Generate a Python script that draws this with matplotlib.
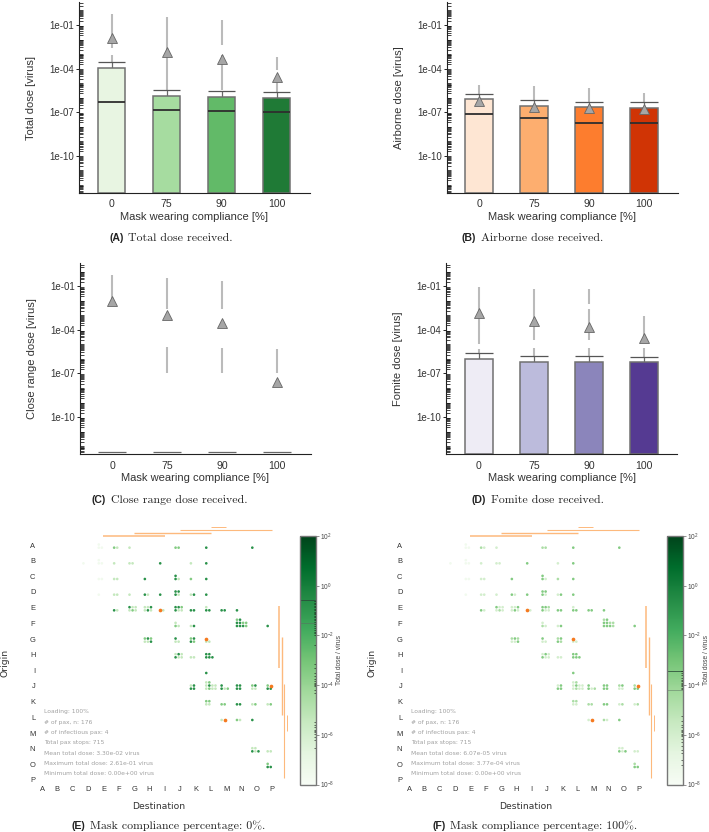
import matplotlib
matplotlib.use("Agg")
import matplotlib.pyplot as plt
import numpy as np
from matplotlib.colors import LogNorm
from matplotlib.cm import ScalarMappable
from matplotlib.ticker import LogLocator, NullFormatter, FixedLocator, NullLocator

W, H = 709, 832
plt.rcParams["font.family"] = ["Liberation Sans", "DejaVu Sans"]

# ---------- bar panels (log10 of dose) ----------
compliance = ["0", "75", "90", "100"]

total_top = [-3.93, -5.88, -5.97, -6.04]
total_median = [-6.29, -6.82, -6.89, -6.96]
total_cap = [-3.52, -5.47, -5.56, -5.63]
total_mean = [-1.91, -2.83, -3.31, -4.55]
total_fliers = [[(-2.6, -0.24), (-3.52, -3.06)],
                [(-5.47, -0.42)],
                [(-2.37, -0.65), (-5.47, -3.06)],
                [(-4.09, -3.17), (-5.63, -4.78)]]

air_top = [-6.11, -6.56, -6.66, -6.72]
air_median = [-7.11, -7.41, -7.73, -7.73]
air_cap = [-5.72, -6.17, -6.27, -6.33]
air_mean = [-6.22, -6.61, -6.72, -6.80]
air_fliers = [[(-5.72, -5.12)], [(-6.17, -5.23)], [(-6.27, -5.35)], [(-6.33, -5.69)]]

close_top = [-12.45, -12.45, -12.45, -12.45]
close_median = [-12.42, -12.42, -12.42, -12.42]
close_cap = [None, None, None, None]
close_mean = [-1.98, -2.99, -3.51, -7.62]
close_fliers = [[(-1.95, -0.23)],
                [(-2.53, -0.46), (-7.0, -5.17)],
                [(-2.53, -0.62), (-7.0, -5.28)],
                [(-7.0, -5.33)]]

fomite_top = [-6.01, -6.20, -6.22, -6.24]
fomite_median = [None, None, None, None]
fomite_cap = [-5.62, -5.81, -5.83, -5.85]
fomite_mean = [-2.85, -3.40, -3.81, -4.59]
fomite_fliers = [[(-4.94, -1.06), (-5.62, -5.3)],
                 [(-4.71, -1.17), (-5.81, -5.25)],
                 [(-2.23, -1.17), (-4.71, -2.57), (-5.83, -5.25)],
                 [(-4.71, -3.04), (-5.85, -5.25)]]

greens = ["#e8f5e2", "#a6dca0", "#62ba68", "#1f7a36"]
oranges = ["#fee6d3", "#fdae6f", "#fd7d2e", "#d03405"]
purples = ["#eeecf5", "#bcbbdc", "#8b85bb", "#553a92"]
blanks = ["none"] * 4

# ---------- origin/destination panels ----------
# token: destination, seat column, seat row, level in panel E, level in panel F
dots_A = "E0000 E1000 E0100 F0022 F1011 G0011 J0022 J1022 L0031 O0031"
dots_B = "D0000 E0000 E1000 E0100 F0011 G0011 G1011 I0031 K0011 L0032"
dots_C = "E0000 E1000 F0011 F1011 H0031 J0031 J1011 J0131 K0022 L0031"
dots_D = ("E0000 F0011 F1011 G0011 H0032 H1011 I0031 J0031 J1011 J0131 J1131 "
          "K0011 K1032 L0031")
dots_E = ("F0031 F1011 G0131 G1111 G2111 G0011 G1022 G2011 H0111 H1111 H2131 H0011 "
          "H1031 H2011 I00xx I1011 J0132 J1132 J2121 J0032 J1011 J2011 K0032 K1031 "
          "L0111 L0031 L1031 M0032 M1031 N0032")
dots_F = ("J0111 J0021 J1012 K0011 K1032 N0221 N1231 N0132 N1132 N2122 N3121 "
          "N0032 N1032 N2032 N3021 P0031")
dots_G = ("H0122 H1131 H2122 H0011 H1011 H2031 J0131 J0011 J1011 K0122 K1131 "
          "K0032 K1022 L01xx L0011 L1011")
dots_H = ("J0111 J1132 J2111 J0032 J1012 J2012 K0012 K1011 L0132 L1131 L0031 "
          "L1031 L2031")
dots_I = "L0032"
dots_J = ("K0111 K1131 K0032 K1032 L0211 L1221 L0111 L1132 L2112 L3112 L0012 "
          "L1022 L2012 L3012 M0132 M0032 M1011 M2022 N0132 N1131 N0032 N1031 "
          "O0121 O1132 O0011 O1011 P0121 P11xx P0032 P1031")
dots_K = "L0122 L1122 L0012 L1011 M0022 M1022 N0032 N1032 O0011 O1022 P0011 P1022"
dots_L = "M0011 M10xx N0021 N1011 O0032"
dots_N = "O0111 O1111 O0032 O1012 O2032 P0011 P1011"
dots_O = "P0122 P0032 P1032"
dot_rows = {"A": dots_A, "B": dots_B, "C": dots_C, "D": dots_D, "E": dots_E,
            "F": dots_F, "G": dots_G, "H": dots_H, "I": dots_I, "J": dots_J,
            "K": dots_K, "L": dots_L, "N": dots_N, "O": dots_O}

levels_E = {"0": -7.6, "1": -5.4, "2": -3.4, "3": -0.8}
levels_F = {"0": -7.6, "1": -6.0, "2": -4.6, "3": -3.4}

letters = list("ABCDEFGHIJKLMNOP")
flights = [("E", "I", 1.1), ("G", "L", 1.0), ("J", "P", 0.8), ("L", "M", 0.7)]

info_E = ["Loading: 100%", "# of pax, n: 176", "# of infectious pax: 4", "Total pax stops: 715",
          "Mean total dose: 3.30e-02 virus", "Maximum total dose: 2.61e-01 virus",
          "Minimum total dose: 0.00e+00 virus"]
info_F = ["Loading: 100%", "# of pax, n: 176", "# of infectious pax: 4", "Total pax stops: 715",
          "Mean total dose: 6.07e-05 virus", "Maximum total dose: 3.77e-04 virus",
          "Minimum total dose: 0.00e+00 virus"]

mean_E, max_E = 3.30e-2, 2.61e-1
mean_F, max_F = 6.07e-5, 3.77e-4

rug_E = [-0.62, -0.7, -0.75, -0.8, -0.86, -0.92, -0.98, -1.05, -1.1, -1.15, -1.2, -1.27, -1.33,
         -1.4, -1.48, -1.55, -1.62, -1.7, -1.78, -1.85, -1.92, -2.0, -2.4, -3.15, -3.3, -3.5,
         -3.65, -3.75, -3.85, -3.9, -3.95, -4.0, -4.05, -4.2, -4.3, -5.5, -5.6, -5.7, -5.8,
         -5.85, -5.9, -5.95, -6.1, -6.2, -6.55]
rug_F = [-3.45, -3.5, -3.6, -3.7, -3.78, -3.85, -3.9, -3.95, -4.0, -4.05, -4.1, -4.15, -5.25,
         -5.45, -5.6, -5.7, -5.8, -5.85, -5.9, -5.95, -6.0, -6.05, -6.15, -6.3, -6.45, -6.6,
         -6.75, -7.0, -7.2]

# ---------- layout helpers ----------
fig = plt.figure(figsize=(W / 100, H / 100), dpi=100, facecolor="white")


def px_axes(x0, y0, x1, y1):
    """Axes from pixel box, y measured from the top."""
    return fig.add_axes([x0 / W, 1 - y1 / H, (x1 - x0) / W, (y1 - y0) / H])


def caption(x, y, tag, text):
    t = fig.text(x / W, 1 - y / H, tag, fontsize=7.6, fontweight="bold", va="center", color="#222222")
    fig.canvas.draw()
    end = t.get_window_extent().x1
    fig.text((end + 4.5) / W, 1 - y / H, text, fontsize=8.55, family="cmr10", va="center", color="#222222")


TXT = "#333333"


def bar_panel(x0, y0, label, top, median, cap, mean, fliers, colors):
    ax = px_axes(x0, y0, x0 + 231, y0 + 191)
    ax.set_yscale("log")
    lo, hi = 10 ** -12.56, 10 ** 0.58
    ax.set_ylim(lo, hi)
    ax.set_xlim(-0.595, 3.605)
    x = np.arange(4)
    for i in x:
        for a, b in fliers[i]:
            ax.vlines(i, 10 ** a, 10 ** b, color="#b0b0b0", lw=1.5, alpha=0.85, zorder=1)
    tops = 10 ** np.array(top)
    if colors[0] != "none":
        ax.bar(x, tops - lo, bottom=lo, width=0.5, color=colors, edgecolor="#707070", linewidth=1.1, zorder=2)
    for i in x:
        if median[i] is not None:
            ax.hlines(10 ** median[i], i - 0.25, i + 0.25,
                      color="#2e2e2e" if colors[0] != "none" else "#666666",
                      lw=1.3 if colors[0] != "none" else 0.9, zorder=3)
        if cap[i] is not None:
            ax.vlines(i, 10 ** top[i], 10 ** cap[i], color="#6a6a6a", lw=0.9, zorder=1.5)
            ax.hlines(10 ** cap[i], i - 0.25, i + 0.25, color="#555555", lw=0.9, zorder=3)
    ax.plot(x, 10 ** np.array(mean), ls="none", marker="^", ms=7.8, mfc="#a6a6a6",
            mec="#666666", mew=0.6, zorder=4)
    ax.set_xticks(x, compliance)
    ax.tick_params(axis="x", length=0, pad=4.5, labelsize=7.6, labelcolor=TXT)
    ax.yaxis.set_major_locator(FixedLocator([1e-10, 1e-7, 1e-4, 1e-1]))
    ax.set_yticklabels(["1e-10", "1e-07", "1e-04", "1e-01"])
    ax.yaxis.set_minor_locator(LogLocator(base=10, subs=np.arange(1, 10), numticks=40))
    ax.yaxis.set_minor_formatter(NullFormatter())
    ax.tick_params(axis="y", which="major", length=2.5, width=0.7, direction="out", pad=1,
                   labelsize=7.0, labelcolor=TXT, color="#222222")
    ax.tick_params(axis="y", which="minor", length=3.2, width=0.55, direction="in", color="#111111")
    for s in ("top", "right"):
        ax.spines[s].set_visible(False)
    for s in ("left", "bottom"):
        ax.spines[s].set_linewidth(0.8)
        ax.spines[s].set_color("#222222")
    ax.set_xlabel("Mask wearing compliance [%]", fontsize=8, color=TXT, labelpad=2)
    ax.set_ylabel(label, fontsize=8, color=TXT)
    ax.yaxis.set_label_coords(-0.186, 0.5)
    return ax


bar_panel(79, 2, "Total dose [virus]", total_top, total_median, total_cap, total_mean, total_fliers, greens)
bar_panel(446.5, 2, "Airborne dose [virus]", air_top, air_median, air_cap, air_mean, air_fliers, oranges)
bar_panel(79.5, 263.3, "Close range dose [virus]", close_top, close_median, close_cap, close_mean,
          close_fliers, blanks)
bar_panel(446.2, 263.3, "Fomite dose [virus]", fomite_top, fomite_median, fomite_cap, fomite_mean,
          fomite_fliers, purples)


def od_panel(dx, level_map, info, mean_v, max_v, rug):
    ax = px_axes(36 + dx, 521.5, 290.7 + dx, 784.7)
    ax.set_xlim(-0.39, 16.2)
    ax.set_ylim(15.3, -1.5)
    ax.patch.set_alpha(0)
    for s in ax.spines.values():
        s.set_visible(False)
    ax.set_xticks(range(16), letters)
    ax.set_yticks(range(16), letters)
    ax.tick_params(length=0, labelsize=5.4, labelcolor=TXT)
    ax.tick_params(axis="x", pad=0.8)
    ax.tick_params(axis="y", pad=0.5)
    ax.set_xlabel("Destination", fontsize=6.7, color=TXT, family="DejaVu Sans")
    ax.set_ylabel("Origin", fontsize=6.7, color=TXT, family="DejaVu Sans")
    ax.xaxis.set_label_coords(0.482, -0.066)
    ax.yaxis.set_label_coords(-0.103, 0.462)

    norm = LogNorm(1e-8, 1e2)
    xs, ys, vals, ox, oy = [], [], [], [], []
    for row, s in dot_rows.items():
        r = letters.index(row)
        for tok in s.split():
            c = letters.index(tok[0])
            xx = c - 0.30 + 0.2 * int(tok[1])
            yy = r + 0.17 - 0.2 * int(tok[2])
            if tok[3] == "x":
                ox.append(xx)
                oy.append(yy)
            else:
                xs.append(xx)
                ys.append(yy)
                vals.append(10 ** level_map[tok[3]])
    ax.scatter(xs, ys, c=vals, cmap="Greens", norm=norm, s=3.6, linewidths=0, zorder=3)
    ax.scatter(ox, oy, color="#f5791f", s=7, linewidths=0, zorder=4)

    top_y = [-0.60, -0.77, -0.94, -1.13]
    right_x = [15.44, 15.64, 15.77, 15.97]
    for k, (a, b, w) in enumerate(flights):
        ia, ib = letters.index(a), letters.index(b)
        ax.hlines(top_y[k], ia, ib, color="#fdb97d", lw=w)
        ax.vlines(right_x[k], ia - 0.12, ib - 0.12, color="#fdb97d", lw=w)

    for k, line in enumerate(info):
        fig.text((44 + dx) / W, 1 - (712 + 10.3 * k) / H, line, fontsize=4.35, color="#a0a0a0", va="center",
                 family="DejaVu Sans")

    cax = px_axes(300 + dx, 536, 315.6 + dx, 784.5)
    cb = fig.colorbar(ScalarMappable(norm=norm, cmap="Greens"), cax=cax)
    cb.set_ticks([1e-8, 1e-6, 1e-4, 1e-2, 1, 1e2])
    cb.ax.yaxis.set_minor_locator(NullLocator())
    cb.ax.tick_params(length=2, width=0.5, labelsize=4.7, labelcolor="#444444", color="#666666", pad=1.2)
    cb.outline.set_edgecolor("#777777")
    cb.outline.set_linewidth(1.0)
    cb.set_label("Total dose / virus", fontsize=4.8, color="#444444")
    cb.ax.yaxis.set_label_coords((335.6 - 300) / 15.6, 0.5)
    cax.hlines(max_v, 0, 1, transform=cax.get_yaxis_transform(), color="#2a4a38", lw=0.7, alpha=0.8)
    cax.hlines(mean_v, 0, 1, transform=cax.get_yaxis_transform(), color="#5a6a60", lw=0.6, alpha=0.55)
    cax.hlines(10 ** np.array(rug), 0.92, 1.0, transform=cax.get_yaxis_transform(), color="black", lw=0.4)


od_panel(0, levels_E, info_E, mean_E, max_E, rug_E)
od_panel(367, levels_F, info_F, mean_F, max_F, rug_F)

caption(109.3, 238.3, "(A)", "Total dose received.")
caption(462, 238.3, "(B)", "Airborne dose received.")
caption(92, 500, "(C)", "Close range dose received.")
caption(472, 500, "(D)", "Fomite dose received.")
caption(72, 826, "(E)", "Mask compliance percentage: 0%.")
caption(432.7, 826, "(F)", "Mask compliance percentage: 100%.")

fig.savefig("out.png", dpi=100, facecolor="white")
